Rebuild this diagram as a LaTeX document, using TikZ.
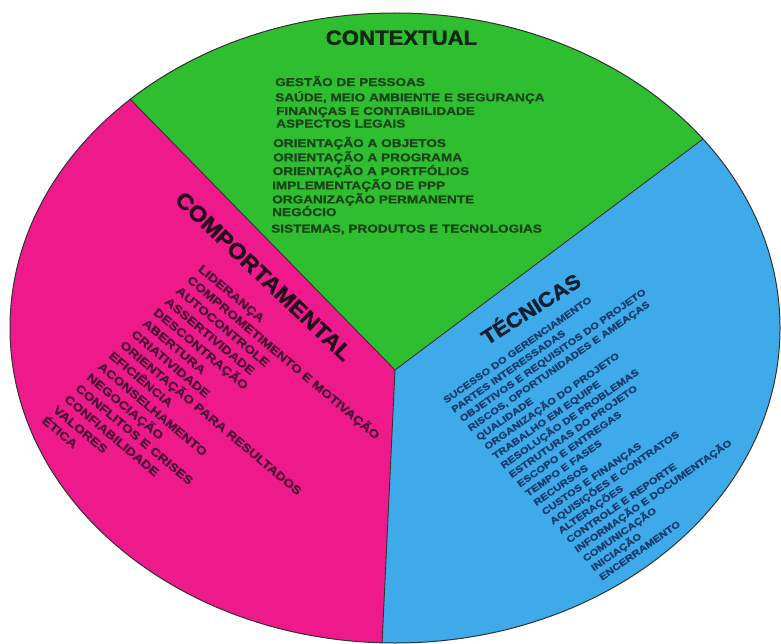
\documentclass[tikz,border=0pt]{standalone}
\usepackage{fontspec}
\newfontfamily\listfont{Liberation Sans Bold}[FakeStretch=1.2, FakeBold=1.3]
\newfontfamily\headfont{Liberation Sans Bold}[FakeStretch=1.08, FakeBold=1.8]
\definecolor{secgreen}{RGB}{46,190,48}
\definecolor{secpink}{RGB}{238,26,140}
\definecolor{secblue}{RGB}{62,170,233}
\definecolor{txtgreen}{RGB}{24,70,26}
\definecolor{txtpink}{RGB}{76,14,52}
\definecolor{txtblue}{RGB}{24,60,110}
\definecolor{rimline}{RGB}{50,50,50}
\begin{document}
\begin{tikzpicture}[x=1pt,y=-1pt,
  title/.style={inner sep=0pt, text height=14.6pt, text depth=0pt,
    font=\headfont\fontsize{20.5}{24}\selectfont},
  greenitem/.style={inner sep=0pt, anchor=west, text height=8.1pt, text depth=0pt,
    text=txtgreen, font=\listfont\fontsize{11.35}{14}\selectfont},
  pinkitem/.style={greenitem, text=txtpink, rotate=-40, text height=8.3pt,
    font=\listfont\fontsize{11.6}{14}\selectfont},
  blueitem/.style={inner sep=0pt, anchor=west, text height=6.8pt, text depth=0pt,
    text=txtblue, rotate=35, font=\listfont\fontsize{9.4}{11}\selectfont}]
\useasboundingbox (0,0) rectangle (781,644);
\fill[white] (0,0) rectangle (781,644);

% hub and the far ends of the three dividing rays
\coordinate (hub) at (395,370);
\coordinate (rayL) at (-2.5,-36.5);
\coordinate (rayR) at (857,23.5);
\coordinate (rayB) at (369.9,900);

% sectors, clipped to the ellipse
\begin{scope}
  \clip (395,328) ellipse [x radius=385pt, y radius=315pt];
  \fill[secblue] (-50,-250) rectangle (850,900);
  \fill[secgreen] (hub) -- (rayL) -- (-2.5,-250) -- (857,-250) -- (rayR) -- cycle;
  \fill[secpink] (hub) -- (rayL) -- (-250,-36.5) -- (-250,900) -- (rayB) -- cycle;
  \draw[rimline, line width=0.9pt] (rayL) -- (hub) -- (rayR);
  \draw[rimline, line width=0.9pt] (hub) -- (rayB);
\end{scope}
\draw[rimline, line width=1pt] (395,328) ellipse [x radius=385pt, y radius=315pt];

% section titles
\node[title, text={rgb,255:red,18;green,40;blue,20}] (tctx) at (401.5,37.5) {CONTEXTUAL};
\node[title, text={rgb,255:red,40;green,12;blue,30}, rotate=-43.5,
  font=\headfont\fontsize{22}{24}\selectfont, text height=15.8pt] (tcmp) at (264,276) {COMPORTAMENTAL};
\node[title, text={rgb,255:red,16;green,30;blue,48}, rotate=32.5] (ttec) at (531,309) {TÉCNICAS};

% contextual competences
\node[greenitem] (g1) at (275,82) {GESTÃO DE PESSOAS};
\node[greenitem] (g2) at (275,97.3) {SAÚDE, MEIO AMBIENTE E SEGURANÇA};
\node[greenitem] (g3) at (276,110.9) {FINANÇAS E CONTABILIDADE};
\node[greenitem] (g4) at (276,123.5) {ASPECTOS LEGAIS};
\node[greenitem] (g5) at (273,143) {ORIENTAÇÃO A OBJETOS};
\node[greenitem] (g6) at (273,157.3) {ORIENTAÇÃO A PROGRAMA};
\node[greenitem] (g7) at (272.5,171) {ORIENTAÇÃO A PORTFÓLIOS};
\node[greenitem] (g8) at (272,185.3) {IMPLEMENTAÇÃO DE PPP};
\node[greenitem] (g9) at (272,199.3) {ORGANIZAÇÃO PERMANENTE};
\node[greenitem] (g10) at (272,212) {NEGÓCIO};
\node[greenitem] (g11) at (271,228.5) {SISTEMAS, PRODUTOS E TECNOLOGIAS};

% behavioural competences
\foreach \t [count=\i from 0] in {LIDERANÇA, COMPROMETIMENTO E MOTIVAÇÃO, AUTOCONTROLE,
  ASSERTIVIDADE, DESCONTRAÇÃO, ABERTURA, CRIATIVIDADE, ORIENTAÇÃO PARA RESULTADOS,
  EFICIÊNCIA, ACONSELHAMENTO, NEGOCIAÇÃO, CONFLITOS E CRISES, CONFIABILIDADE,
  VALORES, ÉTICA}
  \node[pinkitem] (p\i) at ({200-11.16*\i},{267+10.84*\i}) {\t};

% technical competences
\foreach \t [count=\i from 0] in {SUCESSO DO GERENCIAMENTO, PARTES INTERESSADAS,
  OBJETIVOS E REQUISITOS DO PROJETO, {RISCOS, OPORTUNIDADES E AMEAÇAS}, QUALIDADE,
  ORGANIZAÇÃO DO PROJETO, TRABALHO EM EQUIPE, RESOLUÇÃO DE PROBLEMAS,
  ESTRUTURAS DO PROJETO, ESCOPO E ENTREGAS, TEMPO E FASES, RECURSOS,
  CUSTOS E FINANÇAS, AQUISIÇÕES E CONTRATOS, ALTERAÇÕES, CONTROLE E REPORTE,
  INFORMAÇÃO E DOCUMENTAÇÃO, COMUNICAÇÃO, INICIAÇÃO, ENCERRAMENTO}
  \node[blueitem] (b\i) at ({444+8.21*\i},{401+9.32*\i}) {\t};
\end{tikzpicture}
\end{document}
